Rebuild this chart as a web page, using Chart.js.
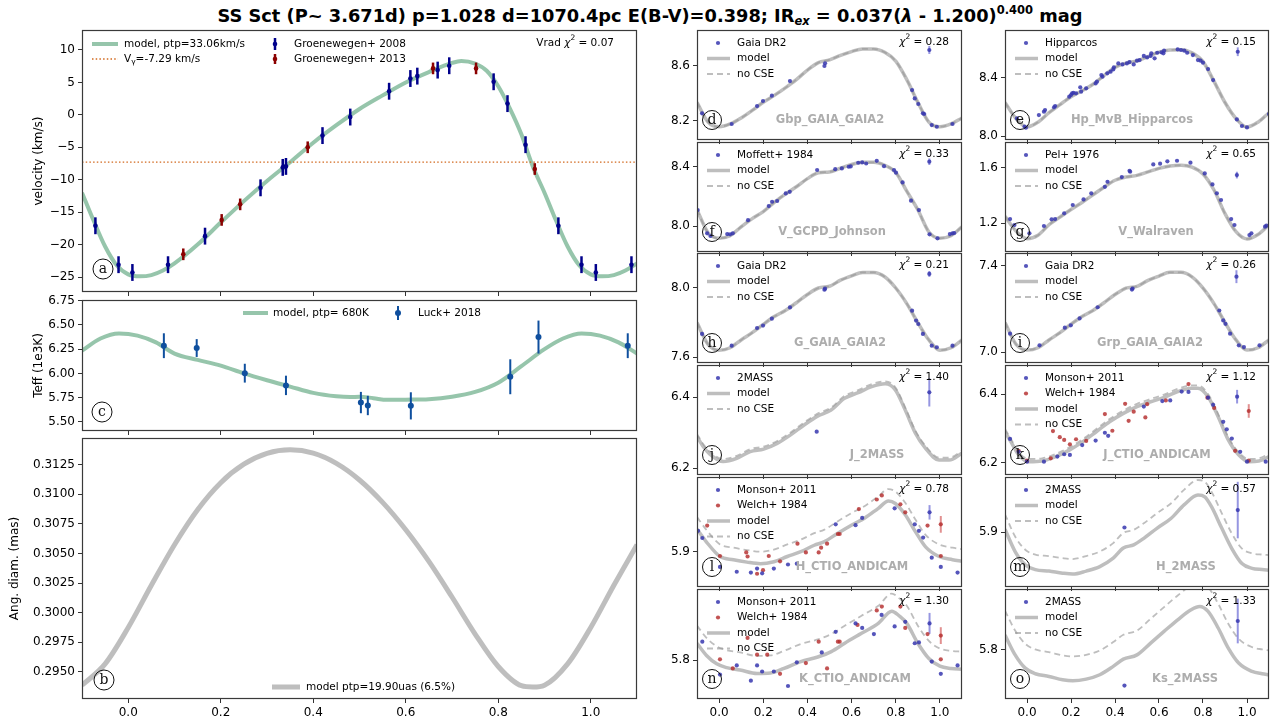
<!DOCTYPE html>
<html><head><meta charset="utf-8"><title>SS Sct</title>
<script src="https://cdn.jsdelivr.net/npm/chart.js@4.4.1/dist/chart.umd.min.js"></script>
<style>
html,body{margin:0;padding:0;background:#fff}
body{position:relative;width:1272px;height:725px;overflow:hidden;font-family:"DejaVu Sans",sans-serif}
canvas{position:absolute}
#title{position:absolute;top:5px;left:650px;transform:translateX(-50%);white-space:nowrap;font-weight:bold;font-size:17.8px;line-height:21px;color:#000}
#title sub{font-size:11.5px;vertical-align:-3px;line-height:0;font-style:italic}
#title sup{font-size:11.5px;vertical-align:8px;line-height:0}
</style></head><body>
<div id="title">SS Sct (P~ 3.671d) p=1.028 d=1070.4pc E(B-V)=0.398; IR<sub>ex</sub> = 0.037(<i>λ</i> - 1.200)<sup>0.400</sup> mag</div>
<script>
// ================= DATA =================
const phaseTicks = [0.0, 0.2, 0.4, 0.6, 0.8, 1.0];

// (a) radial velocity
const velTicks = [-25, -20, -15, -10, -5, 0, 5, 10];
const velModelPh = [-0.1,-0.075,-0.05,-0.025,0,0.025,0.05,0.075,0.1,0.15,0.2,0.25,0.3,0.35,0.4,0.45,0.5,0.55,0.6,0.65,0.7,0.72,0.75,0.775,0.8,0.825,0.85,0.875,0.9,0.925,0.95,0.975,1.0,1.025,1.05,1.075,1.1];
const velModel = [-12.0,-16.3,-20.3,-23.2,-24.6,-24.9,-24.7,-24.0,-22.9,-20.0,-16.6,-13.3,-10.2,-7.3,-4.3,-1.6,0.9,3.0,5.0,6.6,8.0,8.3,7.9,6.8,4.4,1.0,-3.0,-8.0,-12.0,-16.3,-20.3,-23.2,-24.6,-24.9,-24.7,-24.0,-22.9];
const vGamma = -7.29;
const g08Ph = [-0.071,-0.021,0.009,0.086,0.166,0.286,0.334,0.341,0.420,0.480,0.564,0.610,0.625,0.669,0.694,0.790,0.820,0.859,0.930,0.980,1.011,1.088];
const g08V = [-17.1,-23.1,-24.3,-23.1,-18.7,-11.25,-8.1,-7.95,-3.2,-0.34,3.64,5.6,5.97,6.9,7.57,5.1,1.73,-4.6,-17.1,-23.1,-24.3,-23.1];
const g08Err = [1.3,1.3,1.3,1.3,1.3,1.3,1.3,1.3,1.3,1.3,1.3,1.3,1.3,1.3,1.3,1.3,1.3,1.3,1.3,1.3,1.3,1.3];
const g13Ph = [0.119,0.202,0.242,0.388,0.659,0.752,0.879];
const g13V = [-21.5,-16.2,-13.8,-5.0,7.16,7.16,-8.35];
const g13Err = [0.9,0.9,0.9,0.9,0.9,0.9,0.9];

// (c) Teff
const teffTicks = [5.5, 5.75, 6.0, 6.25, 6.5, 6.75];
const teffModelPh = [-0.1,-0.06,-0.02,0.02,0.06,0.1,0.15,0.2,0.25,0.3,0.35,0.4,0.45,0.48,0.5,0.53,0.56,0.6,0.65,0.7,0.75,0.8,0.85,0.9,0.94,0.98,1.02,1.06,1.1];
const teffModel = [6.235,6.36,6.412,6.39,6.32,6.205,6.14,6.08,6.0,5.93,5.865,5.80,5.765,5.757,5.76,5.745,5.728,5.73,5.735,5.76,5.81,5.905,6.075,6.25,6.36,6.412,6.39,6.32,6.205];
const luckPh = [0.077,0.148,0.252,0.341,0.503,0.518,0.611,0.826,0.887,1.08];
const luckTeff = [6.286,6.262,6.003,5.877,5.70,5.67,5.666,5.966,6.375,6.286];
const luckErr = [0.128,0.092,0.097,0.1,0.11,0.1,0.14,0.18,0.17,0.128];

// (b) angular diameter
const diamTicks = [0.295, 0.2975, 0.3, 0.3025, 0.305, 0.3075, 0.31, 0.3125];
const diamPh = [-0.1,-0.05,0.0,0.05,0.1,0.15,0.2,0.25,0.3,0.35,0.4,0.45,0.5,0.55,0.6,0.65,0.7,0.75,0.8,0.85,0.875,0.9,0.95,1.0,1.05,1.1];
const diamModel = [0.29388,0.29568,0.29875,0.30231,0.30573,0.30868,0.31096,0.31252,0.31343,0.31373,0.31345,0.31259,0.31119,0.30930,0.30699,0.30432,0.30132,0.29820,0.29546,0.29384,0.29373,0.29388,0.29568,0.29875,0.30231,0.30573];

// right-hand photometry panels
const gridPh = [-0.1,-0.05,0,0.05,0.1,0.15,0.2,0.25,0.3,0.35,0.4,0.45,0.5,0.55,0.6,0.65,0.7,0.75,0.8,0.85,0.9,0.95,1.0,1.05,1.1];

const dModel = [8.335,8.19,8.156,8.176,8.22,8.275,8.335,8.385,8.44,8.50,8.57,8.625,8.645,8.678,8.705,8.725,8.725,8.70,8.635,8.50,8.335,8.19,8.156,8.176,8.22];
const dPh = [-0.077,0.057,0.172,0.199,0.239,0.321,0.477,0.480,0.874,0.886,0.902,0.923,0.929,0.963,0.986,1.057];
const dMag = [8.254,8.176,8.307,8.344,8.383,8.490,8.600,8.620,8.424,8.363,8.322,8.254,8.249,8.168,8.156,8.176];
const dErr = [0.952, 8.717, 0.029];

const eModel = [8.23,8.12,8.062,8.095,8.16,8.215,8.27,8.31,8.355,8.415,8.47,8.50,8.515,8.545,8.575,8.59,8.592,8.57,8.51,8.375,8.23,8.12,8.062,8.095,8.16];
const ePh = [-0.046,-0.011,-0.005,0.054,0.077,0.082,0.123,0.128,0.192,0.200,0.205,0.211,0.223,0.242,0.246,0.269,0.312,0.318,0.338,0.343,0.365,0.380,0.392,0.395,0.415,0.434,0.454,0.466,0.485,0.500,0.512,0.531,0.546,0.562,0.565,0.580,0.592,0.611,0.620,0.623,0.685,0.700,0.715,0.728,0.754,0.777,0.789,0.800,0.823,0.846,0.954,0.977,1.000,1.100];
const eMag = [8.121,8.064,8.057,8.144,8.167,8.178,8.197,8.206,8.270,8.281,8.293,8.297,8.293,8.334,8.304,8.327,8.361,8.373,8.418,8.407,8.430,8.441,8.457,8.471,8.498,8.491,8.498,8.507,8.491,8.517,8.521,8.549,8.539,8.549,8.567,8.533,8.571,8.574,8.567,8.585,8.594,8.590,8.585,8.571,8.555,8.521,8.517,8.503,8.459,8.384,8.114,8.069,8.059,8.151];
const eErr = [0.958, 8.578, 0.03];

const fModel = [8.11,7.955,7.918,7.935,7.995,8.05,8.097,8.16,8.215,8.265,8.32,8.36,8.365,8.39,8.415,8.43,8.43,8.41,8.362,8.235,8.11,7.96,7.918,7.935,7.995];
const fPh = [-0.097,-0.054,-0.039,0.037,0.050,0.062,0.131,0.225,0.240,0.263,0.302,0.320,0.444,0.526,0.556,0.587,0.596,0.630,0.648,0.666,0.714,0.747,0.792,0.801,0.831,0.869,0.905,0.953,0.989,1.045,1.057,1.065];
const fMag = [8.108,7.951,7.933,7.946,7.944,7.951,8.040,8.135,8.164,8.169,8.220,8.231,8.378,8.384,8.389,8.400,8.402,8.427,8.429,8.422,8.440,8.404,8.378,8.360,8.294,8.171,8.108,7.944,7.917,7.946,7.951,7.953];
const fErr = [0.952, 8.434, 0.022];

const gModel = [1.25,1.145,1.09,1.115,1.19,1.245,1.30,1.35,1.405,1.46,1.51,1.533,1.545,1.57,1.595,1.612,1.618,1.605,1.555,1.44,1.27,1.14,1.088,1.12,1.19];
const gPh = [-0.077,-0.057,0.011,0.077,0.112,0.128,0.169,0.208,0.257,0.292,0.354,0.366,0.431,0.466,0.469,0.574,0.605,0.638,0.682,0.743,0.808,0.843,0.863,0.882,0.928,0.943,1.011,1.020,1.082,1.088];
const gVal = [1.231,1.188,1.128,1.181,1.229,1.231,1.272,1.332,1.372,1.416,1.463,1.499,1.533,1.578,1.571,1.624,1.629,1.646,1.650,1.636,1.559,1.480,1.416,1.368,1.231,1.188,1.116,1.128,1.176,1.183];
const gErr = [0.954, 1.547, 0.024];

const hModel = [7.80,7.675,7.641,7.655,7.70,7.742,7.79,7.835,7.87,7.915,7.962,8.0,8.01,8.045,8.07,8.09,8.09,8.065,8.0,7.91,7.80,7.70,7.641,7.655,7.70];
const hPh = [-0.077,0.057,0.172,0.199,0.239,0.321,0.477,0.480,0.874,0.892,0.902,0.923,0.963,0.986,1.057];
const hMag = [7.735,7.667,7.769,7.783,7.823,7.888,7.990,7.996,7.869,7.812,7.792,7.735,7.667,7.658,7.667];
const hErr = [0.952, 8.081, 0.017];

const iModel = [7.137,7.036,7.009,7.020,7.056,7.090,7.129,7.165,7.193,7.229,7.267,7.297,7.305,7.333,7.353,7.370,7.370,7.349,7.297,7.225,7.137,7.056,7.009,7.020,7.056];
const iPh = [-0.077,0.057,0.172,0.199,0.239,0.321,0.477,0.480,0.874,0.892,0.902,0.923,0.963,0.986,1.057];
const iMag = [7.085,7.031,7.113,7.124,7.156,7.208,7.290,7.295,7.193,7.147,7.131,7.085,7.031,7.023,7.031];
const iErr = [0.952, 7.35, 0.03];

const jModelPh = [-0.1,-0.073,-0.042,0.019,0.08,0.141,0.202,0.263,0.324,0.385,0.446,0.507,0.568,0.63,0.691,0.752,0.798,0.843,0.889,0.935,0.996,1.042,1.1];
const jModel = [6.29,6.262,6.24,6.219,6.228,6.247,6.254,6.27,6.294,6.322,6.347,6.364,6.397,6.413,6.43,6.438,6.421,6.364,6.299,6.256,6.223,6.223,6.242];
const jNoCSE = [6.297,6.269,6.247,6.226,6.235,6.254,6.261,6.277,6.301,6.329,6.354,6.371,6.404,6.42,6.437,6.445,6.428,6.371,6.306,6.263,6.23,6.23,6.249];
const jPh = [0.442];
const jMag = [6.303];
const jErr = [0.952, 6.414, 0.04];

const kModelPh = [-0.1,-0.069,-0.038,0.008,0.069,0.131,0.192,0.254,0.315,0.377,0.438,0.5,0.562,0.623,0.685,0.746,0.777,0.823,0.869,0.915,0.962,1.008,1.054,1.1];
const kModel = [6.29,6.256,6.222,6.202,6.204,6.217,6.236,6.261,6.29,6.32,6.344,6.364,6.378,6.391,6.408,6.418,6.418,6.393,6.334,6.266,6.222,6.202,6.204,6.217];
const kNoCSE = [6.298,6.264,6.23,6.21,6.212,6.225,6.244,6.269,6.298,6.328,6.352,6.372,6.386,6.399,6.416,6.426,6.426,6.401,6.342,6.274,6.23,6.21,6.212,6.225];
const kMonPh = [-0.077,-0.038,0.0,0.077,0.138,0.169,0.195,0.251,0.312,0.354,0.369,0.531,0.615,0.651,0.703,0.734,0.823,0.846,0.892,0.908,0.931,0.969,1.0,1.085];
const kMonMag = [6.269,6.231,6.202,6.202,6.217,6.224,6.222,6.251,6.264,6.287,6.278,6.364,6.380,6.382,6.408,6.407,6.390,6.369,6.319,6.297,6.270,6.231,6.202,6.202];
const kWelPh = [-0.038,0.0,0.108,0.118,0.149,0.169,0.195,0.223,0.269,0.354,0.388,0.446,0.462,0.485,0.538,0.546,0.631,0.734,0.820,0.851,0.946,1.008];
const kWelMag = [6.234,6.205,6.212,6.292,6.274,6.266,6.253,6.268,6.263,6.342,6.293,6.372,6.322,6.349,6.332,6.371,6.382,6.430,6.390,6.360,6.234,6.205];
const kMonErr = [0.955, 6.393, 0.02];
const kWelErr = [1.008, 6.351, 0.02];

const lModelPh = [-0.1,-0.057,0.004,0.065,0.126,0.187,0.248,0.309,0.37,0.431,0.477,0.538,0.599,0.66,0.721,0.767,0.798,0.843,0.889,0.935,0.996,1.057,1.1];
const lModel = [5.928,5.912,5.894,5.89,5.887,5.885,5.8875,5.894,5.9,5.908,5.9125,5.923,5.933,5.942,5.954,5.963,5.96,5.946,5.925,5.906,5.894,5.89,5.888];
const lNoCSE = [5.943,5.927,5.909,5.905,5.902,5.9,5.9025,5.909,5.915,5.923,5.9275,5.938,5.948,5.957,5.969,5.978,5.975,5.961,5.94,5.921,5.909,5.905,5.903];
const lMonPh = [-0.095,-0.076,0.004,0.080,0.144,0.172,0.195,0.248,0.312,0.352,0.528,0.618,0.648,0.795,0.886,0.905,0.924,0.963,1.004,1.080];
const lMonMag = [5.926,5.917,5.881,5.875,5.874,5.879,5.873,5.879,5.884,5.885,5.934,5.933,5.942,5.954,5.934,5.926,5.9175,5.8925,5.881,5.874];
const lWelPh = [-0.054,0.004,0.123,0.129,0.172,0.199,0.225,0.276,0.355,0.393,0.451,0.462,0.489,0.538,0.546,0.633,0.714,0.737,0.821,0.843,0.944,1.004];
const lWelMag = [5.9325,5.8946,5.899,5.894,5.8725,5.877,5.8946,5.888,5.910,5.899,5.899,5.905,5.910,5.922,5.922,5.953,5.965,5.970,5.959,5.949,5.9325,5.8946];
const lMonErr = [0.953, 5.949, 0.009];
const lWelErr = [1.004, 5.934, 0.0104];

const mModelPh = [-0.1,-0.054,-0.008,0.038,0.1,0.162,0.208,0.269,0.331,0.392,0.438,0.485,0.531,0.592,0.654,0.715,0.777,0.808,0.838,0.885,0.931,0.977,1.023,1.069,1.1];
const mModel = [5.905,5.868,5.846,5.838,5.8355,5.832,5.8305,5.8355,5.843,5.857,5.874,5.879,5.89,5.907,5.923,5.946,5.962,5.959,5.943,5.907,5.873,5.848,5.84,5.838,5.837];
const mNoCSE = [5.930,5.893,5.871,5.863,5.8605,5.857,5.8555,5.8605,5.868,5.882,5.899,5.904,5.915,5.932,5.948,5.971,5.987,5.984,5.968,5.932,5.898,5.873,5.865,5.863,5.862];
const mPh = [0.443];
const mMag = [5.908];
const mErr = [0.958, 5.937, 0.047];

const nModelPh = [-0.1,-0.057,-0.011,0.034,0.095,0.172,0.233,0.294,0.37,0.447,0.508,0.569,0.645,0.721,0.782,0.815,0.85,0.9,0.95,1.0,1.05,1.1];
const nModel = [5.822,5.806,5.795,5.79,5.787,5.7824,5.783,5.789,5.798,5.804,5.811,5.822,5.835,5.848,5.864,5.858,5.848,5.822,5.802,5.792,5.789,5.788];
const nNoCSE = [5.845,5.829,5.818,5.813,5.81,5.8054,5.806,5.812,5.821,5.827,5.834,5.845,5.858,5.871,5.887,5.881,5.871,5.845,5.825,5.815,5.812,5.811];
const nMonPh = [-0.076,0.004,0.080,0.144,0.172,0.195,0.248,0.312,0.352,0.465,0.528,0.618,0.648,0.701,0.736,0.795,0.843,0.886,0.905,0.963,1.004,1.080];
const nMonMag = [5.824,5.781,5.793,5.773,5.793,5.785,5.785,5.766,5.797,5.810,5.837,5.848,5.842,5.834,5.859,5.844,5.850,5.822,5.823,5.798,5.782,5.793];
const nWelPh = [0.004,0.062,0.129,0.172,0.218,0.276,0.393,0.451,0.489,0.538,0.546,0.627,0.714,0.737,0.821,0.843,0.944,1.004];
const nWelMag = [5.801,5.789,5.829,5.807,5.807,5.782,5.796,5.824,5.789,5.824,5.824,5.846,5.865,5.870,5.870,5.842,5.834,5.801];
const nMonErr = [0.953, 5.848, 0.0137];
const nWelErr = [1.004, 5.832, 0.011];

const oModelPh = [-0.1,-0.054,-0.008,0.038,0.1,0.162,0.208,0.269,0.331,0.392,0.438,0.5,0.562,0.623,0.685,0.746,0.785,0.823,0.869,0.915,0.962,1.023,1.069,1.1];
const oModel = [5.823,5.792,5.7713,5.7625,5.7583,5.7531,5.7515,5.7541,5.7609,5.774,5.7854,5.792,5.8104,5.8287,5.8469,5.8625,5.8677,5.86,5.834,5.8026,5.7792,5.7661,5.7625,5.7609];
const oNoCSE = [5.861,5.830,5.8093,5.8005,5.7963,5.7911,5.7895,5.7921,5.7989,5.812,5.8234,5.830,5.8484,5.8667,5.8849,5.9005,5.9057,5.898,5.872,5.8406,5.8172,5.8041,5.8005,5.7989];
const oPh = [0.443];
const oMag = [5.744];
const oErr = [0.958, 5.845, 0.035];

// ================= STYLE =================
const GREEN = 'rgba(46,139,87,0.5)';
const ORANGE = 'rgb(210,105,30)';
const MODEL = 'rgba(150,150,150,0.62)';
const BLUE = 'rgba(55,55,175,0.85)';
const RED = 'rgba(180,45,45,0.82)';
const EBLUE = 'rgba(80,80,205,0.6)';
const ERED = 'rgba(205,70,70,0.6)';
const LEGF = '10.5px "DejaVu Sans"';
Chart.defaults.font.family = '"DejaVu Sans", sans-serif';
Chart.defaults.color = '#000';

// ================= HELPERS =================
const pts = (ph, v) => ph.map((x, i) => ({ x: x, y: v[i] }));
function scat(ph, v, color, r) {
  return { data: pts(ph, v), showLine: false, pointRadius: r, pointBorderWidth: 0, pointBackgroundColor: color, backgroundColor: color, borderColor: color, clip: 0 };
}
function errSet(ph, v, errs, color, ecolor, ew, r) {
  const d = scat(ph, v, color, r); d.errs = errs; d.errColor = ecolor; d.errWidth = ew; return d;
}
function lineSet(ph, v, color, w, dash) {
  return { data: pts(ph, v), showLine: true, pointRadius: 0, borderColor: color, backgroundColor: color, borderWidth: w, borderDash: dash || [], cubicInterpolationMode: 'monotone', fill: false, clip: 0 };
}
function T(ctx, s, x, y, o) {
  o = o || {};
  ctx.save(); ctx.font = o.font || LEGF; ctx.fillStyle = o.color || '#000';
  ctx.textAlign = o.align || 'left'; ctx.textBaseline = 'middle';
  ctx.fillText(s, x, y); ctx.restore();
}
function W(ctx, s, font) { ctx.save(); ctx.font = font; const w = ctx.measureText(s).width; ctx.restore(); return w; }
function hline(ctx, x1, x2, y, color, w, dash) {
  ctx.save(); ctx.strokeStyle = color; ctx.lineWidth = w; ctx.setLineDash(dash || []);
  ctx.beginPath(); ctx.moveTo(x1, y); ctx.lineTo(x2, y); ctx.stroke(); ctx.restore();
}
function vline(ctx, x, y1, y2, color, w) {
  ctx.save(); ctx.strokeStyle = color; ctx.lineWidth = w;
  ctx.beginPath(); ctx.moveTo(x, y1); ctx.lineTo(x, y2); ctx.stroke(); ctx.restore();
}
function dot(ctx, x, y, r, color) {
  ctx.save(); ctx.fillStyle = color; ctx.beginPath(); ctx.arc(x, y, r, 0, 2 * Math.PI); ctx.fill(); ctx.restore();
}
function circ(ctx, x, y, r, letter) {
  ctx.save(); ctx.beginPath(); ctx.arc(x, y, r, 0, 2 * Math.PI); ctx.lineWidth = 1; ctx.strokeStyle = '#111'; ctx.stroke();
  ctx.font = '14px "DejaVu Serif"'; ctx.fillStyle = '#111'; ctx.textAlign = 'center'; ctx.textBaseline = 'middle';
  ctx.fillText(letter, x, y + 0.5); ctx.restore();
}
function chi2(ctx, prefix, val, right, y) {
  const fi = 'italic ' + LEGF, fs = '7.5px "DejaVu Sans"', s3 = ' = ' + val;
  const w1 = prefix ? W(ctx, prefix, LEGF) : 0, w2 = W(ctx, 'χ', fi), w3 = W(ctx, '2', fs), w4 = W(ctx, s3, LEGF);
  let x = right - (w1 + w2 + w3 + w4);
  if (prefix) { T(ctx, prefix, x, y); x += w1; }
  T(ctx, 'χ', x, y, { font: fi }); x += w2;
  T(ctx, '2', x, y - 5, { font: fs }); x += w3;
  T(ctx, s3, x, y);
}

const errPlugin = {
  id: 'errbars',
  beforeDatasetDraw(chart, args) {
    const ds = chart.data.datasets[args.index];
    if (!ds.errs) return;
    const ctx = chart.ctx, xs = chart.scales.x, ys = chart.scales.y, a = chart.chartArea;
    ctx.save(); ctx.beginPath(); ctx.rect(a.left, a.top, a.right - a.left, a.bottom - a.top); ctx.clip();
    ctx.strokeStyle = ds.errColor; ctx.lineWidth = ds.errWidth;
    ds.data.forEach((p, i) => {
      const x = xs.getPixelForValue(p.x);
      ctx.beginPath(); ctx.moveTo(x, ys.getPixelForValue(p.y - ds.errs[i])); ctx.lineTo(x, ys.getPixelForValue(p.y + ds.errs[i])); ctx.stroke();
    });
    ctx.restore();
  }
};
const framePlugin = {
  id: 'frame',
  afterDraw(chart) {
    const a = chart.chartArea, ctx = chart.ctx;
    ctx.save(); ctx.strokeStyle = '#3a3a3a'; ctx.lineWidth = 1.2;
    ctx.strokeRect(Math.round(a.left) + 0.5, Math.round(a.top) + 0.5, Math.round(a.right - a.left) - 1, Math.round(a.bottom - a.top) - 1);
    ctx.restore();
  }
};

function panel(p) {
  const padT = 14, padR = 4;
  const fw = p.fr - p.fl, fh = p.fb - p.ft;
  const Wd = p.yW + fw + padR, Ht = padT + fh + p.xH;
  const cv = document.createElement('canvas');
  cv.width = Wd; cv.height = Ht;
  cv.style.left = (p.fl - p.yW) + 'px'; cv.style.top = (p.ft - padT) + 'px';
  cv.style.width = Wd + 'px'; cv.style.height = Ht + 'px';
  document.body.appendChild(cv);
  const grid = { drawOnChartArea: false, drawTicks: true, tickLength: 4, color: '#333', lineWidth: 1 };
  const yScale = {
    type: 'linear', min: p.ymin, max: p.ymax, bounds: 'data',
    afterBuildTicks: s => { s.ticks = p.yTicks.map(v => ({ value: v })); },
    afterFit: s => { s.width = p.yW; },
    ticks: { autoSkip: false, padding: 3, font: { size: 12 }, color: '#000',
      callback: v => { const s = Number(v).toFixed(p.yDec); return s.charAt(0) === '-' ? '\u2212' + s.slice(1) : s; } },
    grid: grid, border: { display: false }
  };
  if (p.yTitle) {
    yScale.title = { display: true, text: p.yTitle, font: { size: 12 }, color: '#000', padding: { top: p.yTitlePad, bottom: 0 } };
  }
  return new Chart(cv, {
    type: 'scatter',
    data: { datasets: p.datasets },
    options: {
      responsive: false, animation: false, devicePixelRatio: 1, events: [],
      layout: { padding: { top: padT, right: padR, left: 0, bottom: 0 } },
      plugins: { legend: { display: false }, tooltip: { enabled: false } },
      scales: {
        x: {
          type: 'linear', min: -0.1, max: 1.1, bounds: 'data',
          afterBuildTicks: s => { s.ticks = phaseTicks.map(v => ({ value: v })); },
          afterFit: s => { s.height = p.xH; },
          ticks: { autoSkip: false, maxRotation: 0, padding: 3, font: { size: 12 }, color: '#000',
            callback: v => p.xLabels ? Number(v).toFixed(1) : '' },
          grid: grid, border: { display: false }
        },
        y: yScale
      }
    },
    plugins: [errPlugin, framePlugin, { id: 'deco', afterDraw: c => { if (p.deco) p.deco(c); } }]
  });
}

// ================= LEFT PANELS =================
panel({
  fl: 82, fr: 637, ft: 30, fb: 292, yW: 82, xH: 14, xLabels: false,
  ymin: -27.31, ymax: 13.08, yTicks: velTicks, yDec: 0, yTitle: 'velocity (km/s)', yTitlePad: 32,
  datasets: [
    errSet(g08Ph, g08V, g08Err, '#00008b', '#00008b', 2.5, 2.3),
    errSet(g13Ph, g13V, g13Err, '#8b0000', '#8b0000', 2.5, 2.3),
    lineSet([-0.1, 1.1], [vGamma, vGamma], ORANGE, 1.4, [1.5, 2.2]),
    lineSet(velModelPh, velModel, GREEN, 4)
  ],
  deco: c => {
    const a = c.chartArea, ctx = c.ctx, x0 = a.left, y0 = a.top;
    hline(ctx, x0 + 10, x0 + 36, y0 + 14, GREEN, 4);
    T(ctx, 'model, ptp=33.06km/s', x0 + 42, y0 + 14);
    hline(ctx, x0 + 10, x0 + 36, y0 + 29, ORANGE, 1.4, [1.5, 2.2]);
    T(ctx, 'V', x0 + 42, y0 + 29);
    const wv = W(ctx, 'V', LEGF);
    T(ctx, 'γ', x0 + 42 + wv, y0 + 32, { font: '7.5px "DejaVu Sans"' });
    T(ctx, '=-7.29 km/s', x0 + 42 + wv + W(ctx, 'γ', '7.5px "DejaVu Sans"'), y0 + 29);
    vline(ctx, x0 + 193, y0 + 8, y0 + 20, '#00008b', 2.5); dot(ctx, x0 + 193, y0 + 14, 2.3, '#00008b');
    T(ctx, 'Groenewegen+ 2008', x0 + 212, y0 + 14);
    vline(ctx, x0 + 193, y0 + 24, y0 + 34, '#8b0000', 2.5); dot(ctx, x0 + 193, y0 + 29, 2.3, '#8b0000');
    T(ctx, 'Groenewegen+ 2013', x0 + 212, y0 + 29);
    chi2(ctx, 'Vrad ', '0.07', x0 + 532, y0 + 13);
    circ(ctx, x0 + 21, a.bottom - 23, 10, 'a');
  }
});

panel({
  fl: 82, fr: 637, ft: 300, fb: 431, yW: 82, xH: 14, xLabels: false,
  ymin: 5.407, ymax: 6.757, yTicks: teffTicks, yDec: 2, yTitle: 'Teff (1e3K)', yTitlePad: 32,
  datasets: [
    errSet(luckPh, luckTeff, luckErr, '#0f4f9e', '#0f4f9e', 2, 3),
    lineSet(teffModelPh, teffModel, GREEN, 4)
  ],
  deco: c => {
    const a = c.chartArea, ctx = c.ctx, x0 = a.left, y0 = a.top;
    hline(ctx, x0 + 161, x0 + 186, y0 + 13, GREEN, 4);
    T(ctx, 'model, ptp= 680K', x0 + 191, y0 + 13);
    vline(ctx, x0 + 316, y0 + 6, y0 + 20, '#0f4f9e', 2); dot(ctx, x0 + 316, y0 + 13, 3, '#0f4f9e');
    T(ctx, 'Luck+ 2018', x0 + 336, y0 + 13);
    circ(ctx, x0 + 20, a.bottom - 19, 10, 'c');
  }
});

panel({
  fl: 82, fr: 637, ft: 438, fb: 699, yW: 82, xH: 26, xLabels: true,
  ymin: 0.29272, ymax: 0.31473, yTicks: diamTicks, yDec: 4, yTitle: 'Ang. diam. (mas)', yTitlePad: 8,
  datasets: [ lineSet(diamPh, diamModel, MODEL, 5) ],
  deco: c => {
    const a = c.chartArea, ctx = c.ctx, x0 = a.left;
    hline(ctx, x0 + 190, x0 + 218, a.bottom - 12, MODEL, 5);
    T(ctx, 'model ptp=19.90uas (6.5%)', x0 + 224, a.bottom - 12);
    circ(ctx, x0 + 22, a.bottom - 19, 10, 'b');
  }
});

// ================= RIGHT PANELS =================
const colL = [697, 1005], colR = [962, 1269];
const rowT = [30, 142, 253, 365, 477, 589];
const rightPanels = [
  { L: 'd', col: 0, row: 0, ymin: 8.059, ymax: 8.863, yTicks: [8.2, 8.6], mPh: gridPh, m: dModel, nc: dModel,
    series: [[dPh, dMag, BLUE, 'Gaia DR2']], errs: [[dErr, BLUE, EBLUE]], chi: '0.28', band: 'Gbp_GAIA_GAIA2', bdx: 133 },
  { L: 'e', col: 1, row: 0, ymin: 7.973, ymax: 8.727, yTicks: [8.0, 8.4], mPh: gridPh, m: eModel, nc: eModel,
    series: [[ePh, eMag, BLUE, 'Hipparcos']], errs: [[eErr, BLUE, EBLUE]], chi: '0.15', band: 'Hp_MvB_Hipparcos', bdx: 127 },
  { L: 'f', col: 0, row: 1, ymin: 7.825, ymax: 8.567, yTicks: [8.0, 8.4], mPh: gridPh, m: fModel, nc: fModel,
    series: [[fPh, fMag, BLUE, 'Moffett+ 1984']], errs: [[fErr, BLUE, EBLUE]], chi: '0.33', band: 'V_GCPD_Johnson', bdx: 135 },
  { L: 'g', col: 1, row: 1, ymin: 0.994, ymax: 1.785, yTicks: [1.2, 1.6], mPh: gridPh, m: gModel, nc: gModel,
    series: [[gPh, gVal, BLUE, 'Pel+ 1976']], errs: [[gErr, BLUE, EBLUE]], chi: '0.65', band: 'V_Walraven', bdx: 151 },
  { L: 'h', col: 0, row: 2, ymin: 7.567, ymax: 8.202, yTicks: [7.6, 8.0], mPh: gridPh, m: hModel, nc: hModel,
    series: [[hPh, hMag, BLUE, 'Gaia DR2']], errs: [[hErr, BLUE, EBLUE]], chi: '0.21', band: 'G_GAIA_GAIA2', bdx: 143 },
  { L: 'i', col: 1, row: 2, ymin: 6.949, ymax: 7.46, yTicks: [7.0, 7.4], mPh: gridPh, m: iModel, nc: iModel,
    series: [[iPh, iMag, BLUE, 'Gaia DR2']], errs: [[iErr, BLUE, EBLUE]], chi: '0.26', band: 'Grp_GAIA_GAIA2', bdx: 145 },
  { L: 'j', col: 0, row: 3, ymin: 6.181, ymax: 6.491, yTicks: [6.2, 6.4], mPh: jModelPh, m: jModel, nc: jNoCSE,
    series: [[jPh, jMag, BLUE, '2MASS']], errs: [[jErr, BLUE, EBLUE]], chi: '1.40', band: 'J_2MASS', bdx: 180 },
  { L: 'k', col: 1, row: 3, ymin: 6.163, ymax: 6.486, yTicks: [6.2, 6.4], mPh: kModelPh, m: kModel, nc: kNoCSE,
    series: [[kMonPh, kMonMag, BLUE, 'Monson+ 2011'], [kWelPh, kWelMag, RED, 'Welch+ 1984']],
    errs: [[kMonErr, BLUE, EBLUE], [kWelErr, RED, ERED]], chi: '1.12', band: 'J_CTIO_ANDICAM', bdx: 152 },
  { L: 'l', col: 0, row: 4, ymin: 5.856, ymax: 5.993, yTicks: [5.9], mPh: lModelPh, m: lModel, nc: lNoCSE,
    series: [[lMonPh, lMonMag, BLUE, 'Monson+ 2011'], [lWelPh, lWelMag, RED, 'Welch+ 1984']],
    errs: [[lMonErr, BLUE, EBLUE], [lWelErr, RED, ERED]], chi: '0.78', band: 'H_CTIO_ANDICAM', bdx: 155 },
  { L: 'm', col: 1, row: 4, ymin: 5.809, ymax: 5.992, yTicks: [5.9], mPh: mModelPh, m: mModel, nc: mNoCSE,
    series: [[mPh, mMag, BLUE, '2MASS']], errs: [[mErr, BLUE, EBLUE]], chi: '0.57', band: 'H_2MASS', bdx: 181 },
  { L: 'n', col: 0, row: 5, ymin: 5.749, ymax: 5.893, yTicks: [5.8], mPh: nModelPh, m: nModel, nc: nNoCSE,
    series: [[nMonPh, nMonMag, BLUE, 'Monson+ 2011'], [nWelPh, nWelMag, RED, 'Welch+ 1984']],
    errs: [[nMonErr, BLUE, EBLUE], [nWelErr, RED, ERED]], chi: '1.30', band: 'K_CTIO_ANDICAM', bdx: 158 },
  { L: 'o', col: 1, row: 5, ymin: 5.723, ymax: 5.895, yTicks: [5.8], mPh: oModelPh, m: oModel, nc: oNoCSE,
    series: [[oPh, oMag, BLUE, '2MASS']], errs: [[oErr, BLUE, EBLUE]], chi: '1.33', band: 'Ks_2MASS', bdx: 180 }
];

rightPanels.forEach(rp => {
  const ds = [];
  rp.series.forEach(s => ds.push(scat(s[0], s[1], s[2], 2.1)));
  rp.errs.forEach(e => ds.push(errSet([e[0][0]], [e[0][1]], [e[0][2]], e[1], e[2], 2, 2.1)));
  ds.push(lineSet(rp.mPh, rp.nc, MODEL, 1.8, [6, 4]));
  ds.push(lineSet(rp.mPh, rp.m, MODEL, 3.5));
  panel({
    fl: colL[rp.col], fr: colR[rp.col], ft: rowT[rp.row], fb: rowT[rp.row] + 110,
    yW: 40, xH: rp.row === 5 ? 26 : 14, xLabels: rp.row === 5,
    ymin: rp.ymin, ymax: rp.ymax, yTicks: rp.yTicks, yDec: 1,
    datasets: ds,
    deco: c => {
      const a = c.chartArea, ctx = c.ctx;
      let yy = a.top + 13;
      rp.series.forEach(s => { dot(ctx, a.left + 21, yy, 2.1, s[2]); T(ctx, s[3], a.left + 40, yy); yy += 15.5; });
      hline(ctx, a.left + 10, a.left + 33, yy, MODEL, 3.5); T(ctx, 'model', a.left + 40, yy); yy += 15.5;
      hline(ctx, a.left + 10, a.left + 33, yy, MODEL, 1.8, [6, 4]); T(ctx, 'no CSE', a.left + 40, yy);
      chi2(ctx, '', rp.chi, a.right - 13, a.top + 12);
      T(ctx, rp.band, a.left + rp.bdx, a.bottom - 20, { font: 'bold 11.5px "DejaVu Sans"', color: '#adadad', align: 'center' });
      circ(ctx, a.left + 15, a.bottom - 20, 9.5, rp.L);
    }
  });
});
</script>
</body></html>
